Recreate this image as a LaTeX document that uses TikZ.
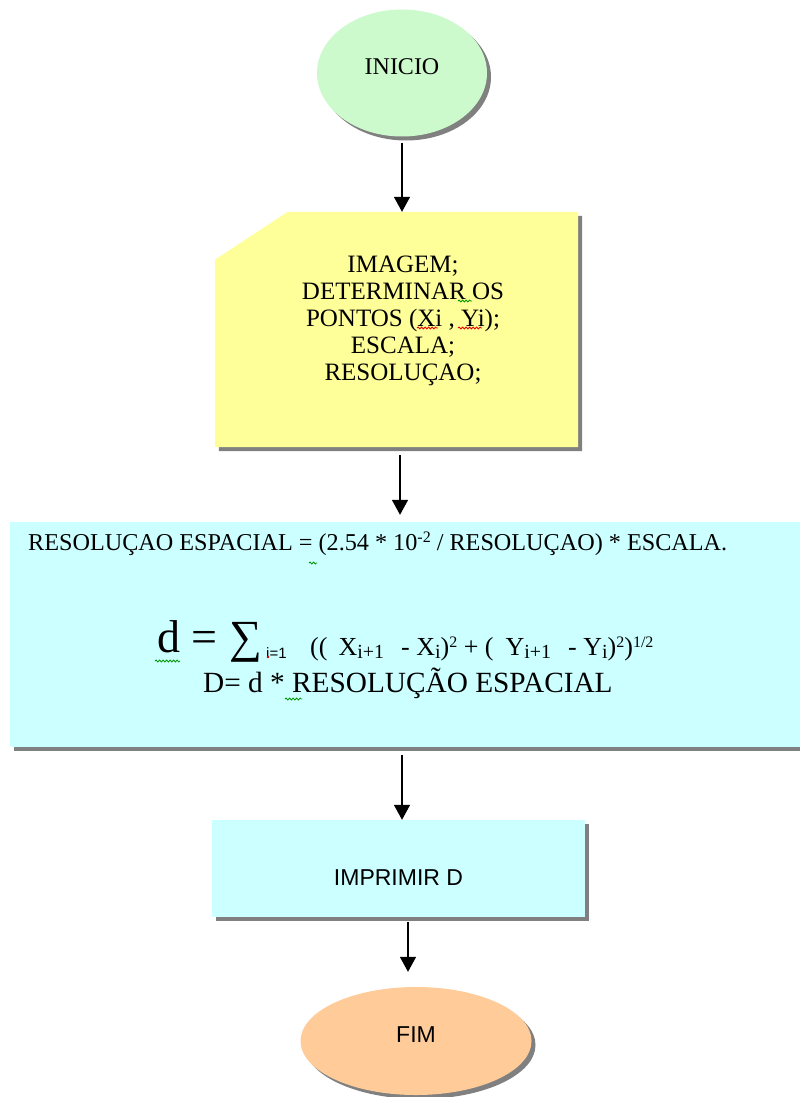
\documentclass[tikz,border=0pt]{standalone}
\usepackage{fontspec}
\setmainfont{Liberation Serif}
\newfontfamily\sansf{Liberation Sans}
\usetikzlibrary{shapes.geometric,arrows.meta,shadows,decorations.pathmorphing,calc}
\definecolor{greenfill}{RGB}{204,250,204}
\definecolor{yellowfill}{RGB}{255,255,153}
\definecolor{cyanfill}{RGB}{204,255,255}
\definecolor{peachfill}{RGB}{255,204,153}
\definecolor{shadowgray}{RGB}{128,128,128}
\definecolor{squigreen}{RGB}{0,150,0}
\definecolor{squired}{RGB}{230,0,0}
\newcommand\lsub[1]{\raisebox{-3pt}{\fontsize{20}{20}\selectfont #1}}
\newcommand\lsup[1]{\raisebox{8pt}{\fontsize{16}{16}\selectfont #1}}
\begin{document}
\begin{tikzpicture}[x=1pt,y=-1pt,
  shad/.style={drop shadow={shadow xshift=4pt,shadow yshift=-4pt,fill=shadowgray,opacity=1}},
  term/.style={ellipse,inner sep=0pt,shad},
  procbox/.style={rectangle,inner sep=0pt,shad},
  serif24/.style={font=\fontsize{24}{27}\selectfont},
  arr/.style={line width=1.6pt,-{Triangle[length=15pt,width=16pt]}},
  squig/.style={line width=0.8pt,decorate,decoration={snake,segment length=3.5pt,amplitude=1pt}}]
\useasboundingbox[fill=white] (0,0) rectangle (800,1097);

% INICIO
\node[term,fill=greenfill,minimum width=170pt,minimum height=127pt,
  label={[serif24,yshift=6pt]center:INICIO}] (ini) at (402,73) {};

% input box (cut corner)
\node[inner sep=0pt,minimum width=363pt,minimum height=235pt] (img) at (396.5,329.5) {};
\fill[yellowfill,shad] ($(img.north west)+(0,48)$) -- ($(img.north west)+(73,0)$)
  -- (img.north east) -- (img.south east) -- (img.south west) -- cycle;
\node[font=\fontsize{25}{27}\selectfont,align=center,inner sep=0pt] (imgtxt) at (403,321)
  {IMAGEM;\\DETERMINAR OS\\PONTOS (Xi , Yi);\\ESCALA;\\RESOLUÇAO;};

% computation box
\node[procbox,fill=cyanfill,minimum width=795pt,minimum height=225pt] (res) at (407.5,634.5) {};
\node[anchor=base west,inner sep=0pt,font=\fontsize{24.2}{27}\selectfont] (l1) at (28,550)
  {RESOLUÇAO ESPACIAL = (2.54 * 10\lsup{-2} / RESOLUÇAO) * ESCALA.};
\node[anchor=base west,inner sep=0pt,font=\fontsize{46}{46}\selectfont] (fd) at (157,652) {d = ∑};
\node[anchor=base west,inner sep=0pt,font=\sansf\fontsize{15}{15}\selectfont] (fi) at (266,658) {i=1};
\node[anchor=base west,inner sep=0pt,font=\fontsize{26}{26}\selectfont] (fr) at (310,655)
  {((\hspace{11pt}X\lsub{i+1}\hspace{17pt}- X\lsub{i})\lsup{2} + (\hspace{12pt}Y\lsub{i+1}\hspace{17pt}- Y\lsub{i})\lsup{2})\lsup{1/2}};
\node[anchor=base west,inner sep=0pt,font=\fontsize{29.3}{31}\selectfont] (dl) at (203,692)
  {D= d * RESOLUÇÃO ESPACIAL};

% IMPRIMIR D
\node[procbox,fill=cyanfill,minimum width=373pt,minimum height=97pt,
  label={[font=\sansf\fontsize{23}{26}\selectfont,yshift=-9pt]center:IMPRIMIR D}] (imp) at (398.5,868.5) {};

% FIM
\node[term,fill=peachfill,minimum width=231pt,minimum height=108pt,
  label={[font=\sansf\fontsize{23}{26}\selectfont,yshift=6pt]center:FIM}] (fim) at (416,1041) {};

% spelling marks
\draw[squig,squigreen] (458,301) -- (472,301);
\draw[squig,squired] (417,328) -- (438,328);
\draw[squig,squired] (458,328) -- (482,328);
\draw[squig,squigreen] (309,563) -- (317,563);
\draw[squig,squigreen] (155,661) -- (180,661);
\fill[squired] (268,657) circle (1.3);
\draw[squig,squigreen] (285,699) -- (302,699);

% connectors
\coordinate (a1s) at ($(ini.south)+(0,6)$);
\draw[arr] (a1s) -- (a1s |- img.north);
\coordinate (a2s) at ($(img.south)+(3.5,8)$);
\draw[arr] (a2s) -- ($(a2s |- res.north)+(0,-7)$);
\coordinate (a3s) at ($(res.south -| imp.north)+(3.5,8)$);
\draw[arr] (a3s) -- (a3s |- imp.north);
\coordinate (a4s) at ($(imp.south)+(9.5,5)$);
\draw[arr] (a4s) -- ($(a4s |- fim.north)+(0,-15)$);
\end{tikzpicture}
\end{document}
